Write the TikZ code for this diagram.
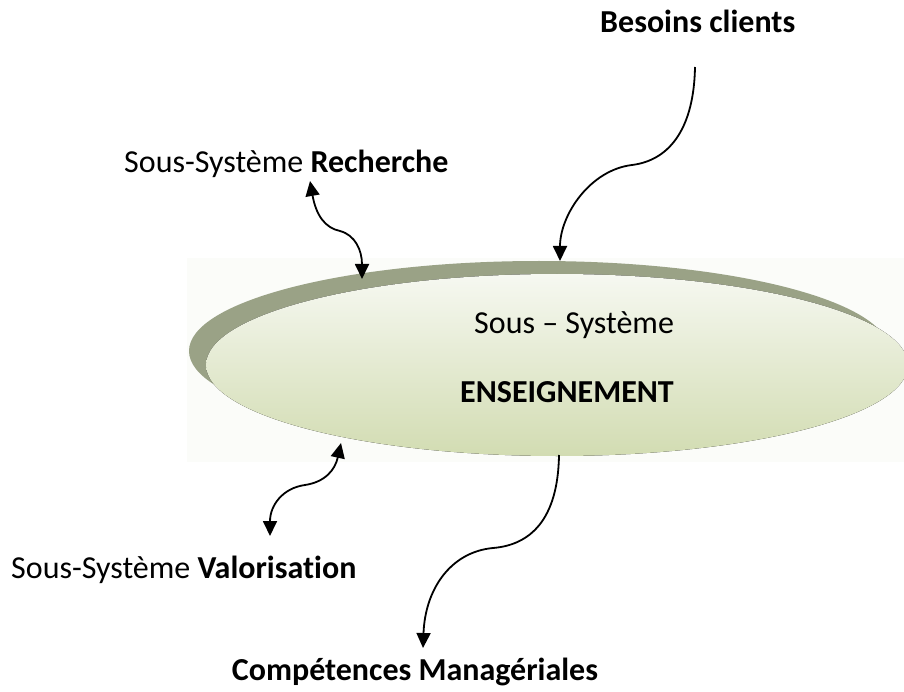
\documentclass[tikz,border=0pt]{standalone}
\usepackage{fontspec}
\setmainfont{Carlito}[Ligatures=NoCommon]
\usetikzlibrary{arrows.meta}
\definecolor{rim}{RGB}{154,162,134}
\definecolor{lighttop}{RGB}{246,248,241}
\definecolor{lightbot}{RGB}{210,220,178}
\definecolor{band}{RGB}{251,252,249}
\begin{document}
\begin{tikzpicture}[x=1pt,y=-1pt,
  lbl/.style={font=\fontsize{32}{38}\selectfont, inner sep=0pt},
  lblb/.style={font=\fontsize{32}{38}\selectfont\bfseries, inner sep=0pt},
  link/.style={line width=1.8pt, -{Triangle[length=15pt,width=14pt]}},
  link2/.style={line width=1.8pt, {Triangle[length=15pt,width=14pt]}-{Triangle[length=15pt,width=14pt]}}]
\useasboundingbox (0,0) rectangle (904,692);
% background band and disc
\fill[band] (187,258) rectangle (904,462);
\fill[rim] (539,351) ellipse [x radius=350pt, y radius=90pt];
\fill[top color=lighttop, bottom color=lightbot] (557,365) ellipse [x radius=351pt, y radius=91pt];
% texts
\node[lblb, anchor=base west] (besoins) at (600,33) {Besoins clients};
\node[lbl, anchor=base west] (recherche) at (124,173) {Sous-Système \textbf{Recherche}};
\node[lbl, anchor=base west] (valor) at (11,578) {Sous-Système \textbf{Valorisation}};
\node[lbl, anchor=base west] (sous) at (474,333) {Sous – Système};
\node[lblb, anchor=base west] (ens) at (460,402) {ENSEIGNEMENT};
\node[lblb, anchor=base] (comp) at (415,680) {Compétences Managériales};
% connector ends
\coordinate (b1) at (695,67);
\coordinate (b2) at (560,261);
\coordinate (r1) at (310,181);
\coordinate (r2) at (362,279);
\coordinate (v1) at (341,443);
\coordinate (v2) at (270,536);
\coordinate (c1) at (559,455);
\coordinate (c2) at (423,648);
% connectors
\draw[link] (b1) .. controls (694,125) and (672,160) .. (632,165)
  .. controls (590,170) and (560,215) .. (b2);
\draw[link2] (r1) .. controls (316,215) and (325,228) .. (340,231)
  .. controls (355,235) and (362,250) .. (r2);
\draw[link2] (v1) .. controls (335,470) and (325,482) .. (305,485)
  .. controls (283,488) and (270,505) .. (v2);
\draw[link] (c1) .. controls (558,520) and (530,545) .. (493,548)
  .. controls (450,552) and (425,590) .. (c2);
\end{tikzpicture}
\end{document}
